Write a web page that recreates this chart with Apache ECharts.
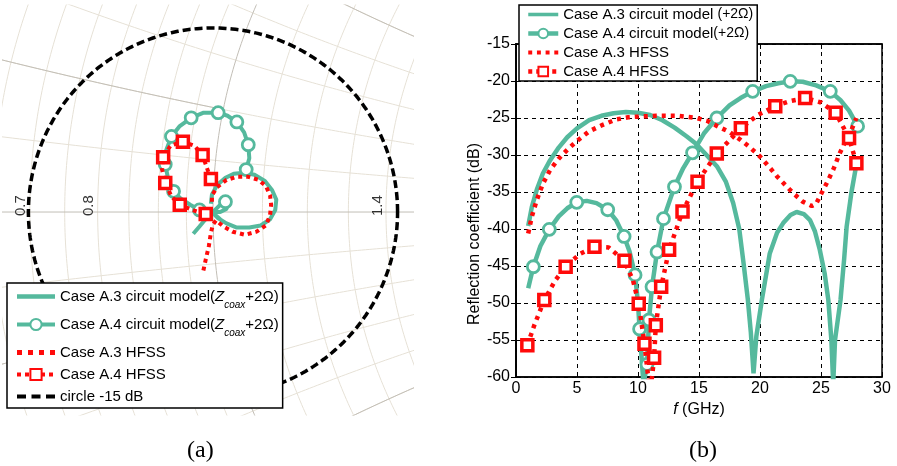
<!DOCTYPE html>
<html>
<head>
<meta charset="utf-8">
<script src="https://cdn.jsdelivr.net/npm/echarts@6/dist/echarts.min.js"></script>
<style>
html, body { margin: 0; padding: 0; background: #fff; }
#main { width: 897px; height: 466px; }
</style>
</head>
<body>
<div id="main"></div>
<script>
// ---------- (a) Smith chart, reflection coefficient as [Re, Im] ----------
const smithA3Circuit = [
    [-0.002, 0.008], [-0.001, 0.017], [0.004, 0.026], [0.012, 0.033], [0.020, 0.037],
    [0.030, 0.038], [0.040, 0.036], [0.050, 0.030], [0.057, 0.021], [0.061, 0.012],
    [0.060, 0.002], [0.055, -0.007], [0.046, -0.013], [0.035, -0.015], [0.023, -0.015],
    [0.013, -0.011], [0.005, -0.006], [0.000, -0.001], [0.007, -0.007], [0.000, -0.001],
    [-0.008, -0.008], [-0.013, -0.014], [-0.019, -0.021]
];
const smithA4Circuit = [
    [0.000, 0.000], [0.004, 0.004], [0.008, 0.008], [0.012, 0.010], [0.014, 0.008],
    [0.013, 0.003], [0.007, 0.000], [0.000, 0.000], [-0.007, 0.001], [-0.013, 0.002],
    [-0.022, 0.007], [-0.031, 0.013], [-0.038, 0.020], [-0.043, 0.031], [-0.046, 0.046],
    [-0.045, 0.060], [-0.040, 0.073], [-0.032, 0.083], [-0.021, 0.091], [-0.009, 0.096],
    [0.005, 0.096], [0.014, 0.093], [0.023, 0.087], [0.030, 0.077], [0.034, 0.065],
    [0.035, 0.052], [0.032, 0.041]
];
const smithA4CircuitMarks = [3, 9, 12, 14, 16, 18, 20, 22, 24, 26];
const smithA3Hfss = [
    [-0.001, 0.010], [-0.001, 0.016], [0.004, 0.024], [0.013, 0.031], [0.023, 0.034],
    [0.034, 0.034], [0.044, 0.031], [0.051, 0.025], [0.055, 0.016], [0.056, 0.007],
    [0.055, -0.003], [0.051, -0.013], [0.042, -0.019], [0.031, -0.022], [0.019, -0.019],
    [0.010, -0.014], [0.003, -0.008], [0.000, -0.012], [-0.002, -0.020], [-0.004, -0.033],
    [-0.007, -0.046], [-0.010, -0.060]
];
const smithA4Hfss = [
    [-0.001, 0.000], [-0.007, -0.002], [-0.017, 0.001], [-0.032, 0.007], [-0.040, 0.015],
    [-0.046, 0.028], [-0.049, 0.041], [-0.048, 0.053], [-0.041, 0.064], [-0.029, 0.068],
    [-0.018, 0.064], [-0.010, 0.055], [-0.006, 0.043], [-0.002, 0.032]
];
const smithA4HfssMarks = [1, 3, 5, 7, 9, 11, 13];
const circleDb = -15;
const gridR = [0.5, 0.55, 0.6, 0.65, 0.7, 0.75, 0.8, 0.85, 0.9, 0.95, 1.1, 1.2, 1.3, 1.4, 1.5, 1.6, 1.7, 1.8, 1.9, 2];
const gridX = [0.1, 0.2, 0.3, 0.4, 0.5, 0.6, 0.7, 0.8, 0.9, 1];
const smithLabels = [0.7, 0.8, 1.4];

// ---------- (b) reflection coefficient vs frequency ----------
const a3CircuitF = [1.0, 1.3, 1.7, 2.2, 2.8, 3.5, 4.2, 5.0, 6.0, 7.0, 8.0, 9.0, 10.0, 11.0, 12.0, 13.0, 14.0, 14.7,
    15.5, 16.5, 17.2, 17.8, 18.3, 18.65, 19.0, 19.25, 19.47, 19.7, 20.15, 20.8, 21.4, 21.9, 22.5, 23.0, 23.6, 24.1,
    24.5, 24.9, 25.3, 25.6, 25.85, 26.0, 26.15, 26.6, 26.9, 27.1, 27.5, 27.9];
const a3CircuitDb = [-39.6, -37.0, -34.7, -32.5, -30.7, -29.0, -27.6, -26.4, -25.3, -24.7, -24.35, -24.2, -24.3, -24.6,
    -25.3, -26.3, -27.5, -28.4, -29.8, -31.6, -33.6, -36.5, -40.0, -44.6, -49.5, -54.0, -59.5, -54.5, -49.6, -43.3,
    -40.5, -39.2, -38.1, -37.7, -38.0, -38.8, -40.3, -42.8, -46.0, -49.6, -55.0, -61.0, -55.0, -49.6, -44.0, -39.7,
    -35.0, -31.3];

const a4CircuitMarkF = [1.42, 2.73, 4.98, 7.52, 8.86, 9.76, 10.13, 10.74, 10.9, 11.15, 11.56, 12.09, 12.99, 14.47,
    16.46, 19.4, 22.48, 25.76, 28.0];
const a4CircuitMarkDb = [-45.1, -40.05, -36.4, -37.4, -41.0, -46.2, -53.5, -58.3, -52.3, -47.8, -43.1, -38.6, -34.3,
    -29.7, -25.0, -21.4, -20.05, -21.4, -26.1];
const a4CircuitLineF = [1.0, 2.0, 3.5, 4.2, 5.8, 6.6, 8.2, 9.3, 10.0, 10.3, 10.45, 13.7, 15.4, 17.5, 18.4, 20.5, 21.5,
    23.5, 24.6, 26.6, 27.3];
const a4CircuitLineDb = [-48.0, -42.3, -38.3, -37.2, -36.2, -36.5, -38.8, -43.0, -50.0, -57.5, -61.0, -31.8, -27.1,
    -23.3, -22.3, -20.7, -20.3, -20.1, -20.6, -22.6, -24.0];

const a3HfssF = [1.0, 1.3, 1.7, 2.2, 2.8, 3.5, 4.2, 5.0, 6.0, 7.0, 8.2, 9.2, 10.2, 11.5, 13.2, 14.8, 15.7, 16.5, 17.5,
    18.4, 19.2, 20.0, 20.7, 21.4, 22.1, 22.75, 23.5, 24.25, 24.6, 24.9, 25.5, 26.0, 26.5, 26.9, 27.4, 27.9];
const a3HfssDb = [-40.6, -38.3, -36.1, -33.9, -32.0, -30.5, -29.3, -28.1, -26.8, -26.0, -25.2, -24.9, -24.8, -24.7,
    -24.7, -25.0, -25.4, -26.1, -26.9, -27.95, -29.0, -30.2, -31.5, -32.9, -34.1, -35.2, -36.3, -36.9, -36.6, -35.6,
    -33.7, -32.0, -29.9, -28.5, -27.0, -25.0];

const a4HfssMarkF = [0.93, 2.32, 4.07, 6.43, 8.89, 10.06, 10.53, 11.32, 11.46, 11.9, 12.55, 13.65, 14.88, 16.46,
    18.43, 21.25, 23.7, 26.2, 27.3, 27.9];
const a4HfssMarkDb = [-55.7, -49.6, -45.1, -42.4, -44.3, -50.1, -55.5, -57.4, -53.0, -47.8, -42.8, -37.65, -33.6,
    -29.8, -26.4, -23.4, -22.3, -24.3, -27.7, -31.1];
const a4HfssLineF = [1.5, 3.2, 5.2, 7.6, 9.6, 10.8, 10.98, 11.15, 19.8, 22.5, 25.0];
const a4HfssLineDb = [-53.0, -47.0, -43.4, -42.5, -47.0, -59.5, -61.5, -60.0, -24.6, -22.7, -22.9];

const freqMin = 0, freqMax = 30, freqStep = 5;
const dbMin = -60, dbMax = -15, dbStep = 5;

const names = {
    a3cLeft: 'Case A.3 circuit model(Zcoax+2Ω)',
    a4cLeft: 'Case A.4 circuit model(Zcoax+2Ω)',
    a3cRight: 'Case A.3 circuit model (+2Ω)',
    a4cRight: 'Case A.4 circuit model(+2Ω)',
    a3h: 'Case A.3 HFSS',
    a4h: 'Case A.4 HFSS',
    circle: 'circle -15 dB'
};

const teal = '#55b99d';
const red = '#ff0a0a';
const font = 'Liberation Sans';

// legend icons for the series drawn without markers
const iconSolid = 'path://M0,0H38V4.5H0Z';
const iconDotted = 'path://M0,0h5v5h-5z M11,0h5v5h-5z M22,0h5v5h-5z M33,0h5v5h-5z';
const iconDashed = 'path://M0,0h9v4h-9z M14.5,0h9v4h-9z M29,0h9v4h-9z';

// merge curve points and marker points, marker points keep the series symbol
function mergePoints(lineF, lineDb, markF, markDb) {
    let pts = [];
    lineF.forEach((f, i) => pts.push({ value: [f, lineDb[i]], symbol: 'none' }));
    markF.forEach((f, i) => pts.push({ value: [f, markDb[i]] }));
    pts.sort((a, b) => a.value[0] - b.value[0]);
    return pts;
}
function pairs(fs, dbs) {
    return fs.map((f, i) => [f, dbs[i]]);
}
function withMarks(points, marks) {
    return points.map((p, i) => marks.indexOf(i) >= 0 ? { value: p } : { value: p, symbol: 'none' });
}

// Smith chart grid: constant resistance circles and constant reactance arcs
function rCircle(r) {
    let pts = [];
    for (let k = 0; k <= 720; k++) {
        let t = k * Math.PI / 360;
        pts.push([r / (1 + r) + Math.cos(t) / (1 + r), Math.sin(t) / (1 + r)]);
    }
    return pts;
}
function xArc(x, rFrom, rTo) {
    let pts = [];
    for (let k = 0; k <= 400; k++) {
        let r = rFrom + (rTo - rFrom) * k / 400;
        let d = (r + 1) * (r + 1) + x * x;
        pts.push([(r * r + x * x - 1) / d, 2 * x / d]);
    }
    return pts;
}
function gridLine(data, major) {
    return {
        type: 'line', xAxisIndex: 0, yAxisIndex: 0, data: data, symbol: 'none', silent: true,
        z: major ? 1 : 0, legendHoverLink: false,
        lineStyle: { color: major ? '#c2beb6' : '#e6e1d6', width: 1 }
    };
}

let series = [];
gridR.forEach(r => series.push(gridLine(rCircle(r), false)));
gridX.forEach(x => {
    series.push(gridLine(xArc(x, 0, 4), false));
    series.push(gridLine(xArc(-x, 0, 4), false));
});
series.push(gridLine([[-1, 0], [1, 0]], true));
series.push(gridLine(rCircle(1), true));
series.push(gridLine(xArc(0.2, 0, 1), true));
series.push(gridLine(xArc(-0.2, 0, 1), true));
series.push(gridLine(xArc(0.5, 0, 2), true));
series.push(gridLine(xArc(-0.5, 0, 2), true));

// -15 dB circle
let rho = Math.pow(10, circleDb / 20);
let circlePts = [];
for (let k = 0; k <= 360; k++) {
    circlePts.push([rho * Math.cos(k * Math.PI / 180), rho * Math.sin(k * Math.PI / 180)]);
}

series.push({
    type: 'scatter', xAxisIndex: 0, yAxisIndex: 0, silent: true, symbolSize: 0, z: 2,
    data: smithLabels.map(r => [(r - 1) / (r + 1), 0]),
    label: {
        show: true, formatter: p => String(smithLabels[p.dataIndex]), rotate: 90,
        position: 'inside', align: 'left', verticalAlign: 'bottom', offset: [-4, -1],
        color: '#000', fontSize: 15, fontFamily: font
    }
});

// data series, panel (a)
series.push({
    name: names.a3cLeft, type: 'line', xAxisIndex: 0, yAxisIndex: 0, data: smithA3Circuit, symbol: 'none',
    z: 3, lineStyle: { color: teal, width: 4 }, itemStyle: { color: teal }
});
series.push({
    name: names.a4cLeft, type: 'line', xAxisIndex: 0, yAxisIndex: 0, z: 3,
    data: withMarks(smithA4Circuit, smithA4CircuitMarks), symbol: 'circle', symbolSize: 12, showAllSymbol: true,
    lineStyle: { color: teal, width: 4 }, itemStyle: { color: '#fff', borderColor: teal, borderWidth: 2.8 }
});
series.push({
    name: names.a3h, type: 'line', xAxisIndex: 0, yAxisIndex: 0, data: smithA3Hfss, symbol: 'none', z: 4,
    lineStyle: { color: red, width: 4, type: [4, 4] }, itemStyle: { color: red }
});
series.push({
    name: names.a4h, type: 'line', xAxisIndex: 0, yAxisIndex: 0, z: 4,
    data: withMarks(smithA4Hfss, smithA4HfssMarks), symbol: 'rect', symbolSize: 11, showAllSymbol: true,
    lineStyle: { color: red, width: 4, type: [4, 4] }, itemStyle: { color: '#fff', borderColor: red, borderWidth: 3.5 }
});
series.push({
    name: names.circle, type: 'line', xAxisIndex: 0, yAxisIndex: 0, data: circlePts, symbol: 'none', z: 2,
    lineStyle: { color: '#000', width: 3.5, type: [8, 4] }, itemStyle: { color: '#000' }
});

// data series, panel (b)
series.push({
    name: names.a3cRight, type: 'line', xAxisIndex: 1, yAxisIndex: 1, data: pairs(a3CircuitF, a3CircuitDb),
    symbol: 'none', z: 3, lineStyle: { color: teal, width: 4.5 }, itemStyle: { color: teal }
});
series.push({
    name: names.a4cRight, type: 'line', xAxisIndex: 1, yAxisIndex: 1, z: 3,
    data: mergePoints(a4CircuitLineF, a4CircuitLineDb, a4CircuitMarkF, a4CircuitMarkDb),
    symbol: 'circle', symbolSize: 12, showAllSymbol: true,
    lineStyle: { color: teal, width: 4.5 }, itemStyle: { color: '#fff', borderColor: teal, borderWidth: 2.8 }
});
series.push({
    name: names.a3h, type: 'line', xAxisIndex: 1, yAxisIndex: 1, data: pairs(a3HfssF, a3HfssDb), symbol: 'none',
    z: 4, lineStyle: { color: red, width: 4.5, type: [4, 5] }, itemStyle: { color: red }
});
series.push({
    name: names.a4h, type: 'line', xAxisIndex: 1, yAxisIndex: 1, z: 4,
    data: mergePoints(a4HfssLineF, a4HfssLineDb, a4HfssMarkF, a4HfssMarkDb),
    symbol: 'rect', symbolSize: 11, showAllSymbol: true,
    lineStyle: { color: red, width: 4.5, type: [4, 5] }, itemStyle: { color: '#fff', borderColor: red, borderWidth: 3.5 }
});

const legendRich = {
    n: { fontSize: 15, fontFamily: font, color: '#000' },
    m: { fontSize: 15, fontFamily: font, color: '#000', lineHeight: 27 },
    z: { fontSize: 15, fontFamily: font, color: '#000', fontStyle: 'italic', lineHeight: 27 },
    s: { fontSize: 10, fontFamily: font, color: '#000', fontStyle: 'italic', lineHeight: 27, verticalAlign: 'bottom' },
    r: { fontSize: 15, fontFamily: font, color: '#000' },
    p: { fontSize: 14, fontFamily: font, color: '#000' }
};

function legendText(name) {
    if (name === names.a3cLeft) return '{m|Case A.3 circuit model(}{z|Z}{s|coax}{m|+2Ω)}';
    if (name === names.a4cLeft) return '{m|Case A.4 circuit model(}{z|Z}{s|coax}{m|+2Ω)}';
    if (name === names.a3cRight) return '{r|Case A.3 circuit model }{p|(+2Ω)}';
    if (name === names.a4cRight) return '{r|Case A.4 circuit model}{p|(+2Ω)}';
    return '{n|' + name + '}';
}

let myChart = echarts.init(document.getElementById('main'));
let option = {
    animation: false,
    backgroundColor: '#fff',
    textStyle: { fontFamily: font },
    title: [
        { text: '(a)', left: 182, top: 434, textStyle: { fontFamily: 'Liberation Serif', fontSize: 24, fontWeight: 'normal', color: '#000' } },
        { text: '(b)', left: 684, top: 434, textStyle: { fontFamily: 'Liberation Serif', fontSize: 24, fontWeight: 'normal', color: '#000' } }
    ],
    legend: [
        {
            data: [
                { name: names.a3cLeft, icon: iconSolid },
                { name: names.a4cLeft },
                { name: names.a3h, icon: iconDotted },
                { name: names.a4h },
                { name: names.circle, icon: iconDashed }
            ],
            orient: 'vertical', left: 7, top: 283, itemWidth: 38, itemHeight: 14, itemGap: 7,
            padding: [6, 4, 4, 8], backgroundColor: '#fff', borderColor: '#000', borderWidth: 1.5,
            lineStyle: { width: 4 },
            formatter: legendText, textStyle: { rich: legendRich }, selectedMode: false
        },
        {
            data: [
                { name: names.a3cRight, icon: iconSolid },
                { name: names.a4cRight },
                { name: names.a3h, icon: iconDotted },
                { name: names.a4h }
            ],
            orient: 'vertical', left: 519, top: 5, itemWidth: 30, itemHeight: 12, itemGap: 4,
            padding: [2, 4, 2, 7], backgroundColor: '#fff', borderColor: '#000', borderWidth: 1.5,
            lineStyle: { width: 4.5 },
            formatter: legendText, textStyle: { rich: legendRich }, selectedMode: false
        }
    ],
    grid: [
        { left: 3, top: 5, width: 410, height: 410 },
        { left: 516, top: 44, right: 15, bottom: 89, show: true, borderColor: '#000', borderWidth: 1.5, backgroundColor: 'transparent' }
    ],
    xAxis: [
        { gridIndex: 0, type: 'value', min: -0.2023, max: 0.1927, show: false },
        {
            gridIndex: 1, type: 'value', min: freqMin, max: freqMax, interval: freqStep,
            name: '{i|f} (GHz)', nameLocation: 'middle', nameGap: 22,
            nameTextStyle: { fontSize: 16, color: '#000', fontFamily: font, rich: { i: { fontStyle: 'italic', fontSize: 16, fontFamily: font, color: '#000' } } },
            axisLine: { lineStyle: { color: '#000', width: 1.5 } },
            axisTick: { inside: true, length: 5, lineStyle: { color: '#000' } },
            axisLabel: { color: '#000', fontSize: 16, margin: 4, fontFamily: font },
            splitLine: { show: true, lineStyle: { color: '#000', width: 1, type: [4, 4] } }
        },
        {
            gridIndex: 1, type: 'value', position: 'top', min: freqMin, max: freqMax, interval: freqStep,
            axisLine: { lineStyle: { color: '#000', width: 1.5 } },
            axisTick: { inside: true, length: 5, lineStyle: { color: '#000' } },
            axisLabel: { show: false }, splitLine: { show: false }
        }
    ],
    yAxis: [
        { gridIndex: 0, type: 'value', min: -0.1961, max: 0.2, show: false },
        {
            gridIndex: 1, type: 'value', min: dbMin, max: dbMax, interval: dbStep,
            name: 'Reflection coefficient (dB)', nameLocation: 'middle', nameGap: 32,
            nameTextStyle: { fontSize: 16, color: '#000', fontFamily: font, padding: [0, 47, 0, 0] },
            axisLine: { lineStyle: { color: '#000', width: 1.5 } },
            axisTick: { inside: true, length: 5, lineStyle: { color: '#000' } },
            axisLabel: { color: '#000', fontSize: 16, margin: 6, fontFamily: font },
            splitLine: { show: true, lineStyle: { color: '#000', width: 1, type: [4, 4] } }
        },
        {
            gridIndex: 1, type: 'value', position: 'right', min: dbMin, max: dbMax, interval: dbStep,
            axisLine: { lineStyle: { color: '#000', width: 1.5 } },
            axisTick: { inside: true, length: 5, lineStyle: { color: '#000' } },
            axisLabel: { show: false }, splitLine: { show: false }
        }
    ],
    series: series
};
myChart.setOption(option);
</script>
</body>
</html>
